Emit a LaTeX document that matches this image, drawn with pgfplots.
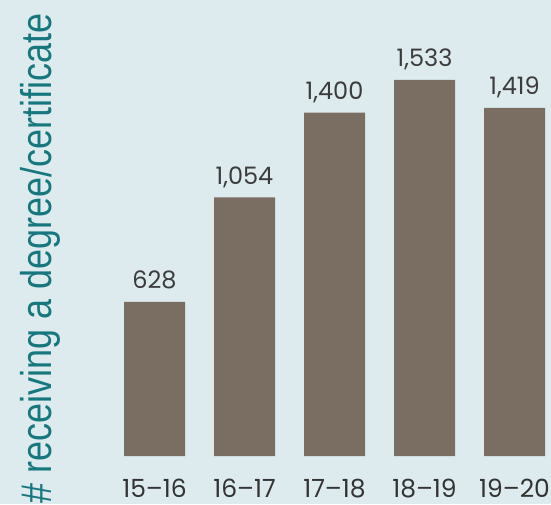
\documentclass[border=0pt]{standalone}
\usepackage{pgfplots}
\pgfplotsset{compat=1.18}
\usetikzlibrary{backgrounds}
\usepackage{fontspec}
\setmainfont{Poppins}
\newfontfamily\labelfont{Liberation Sans}
\definecolor{bg}{HTML}{DDEBEE}
\definecolor{barc}{HTML}{7A6D61}
\definecolor{tealc}{HTML}{17777F}
\definecolor{txt}{HTML}{333333}
\definecolor{valc}{HTML}{3C3C3C}
\begin{document}
\begin{tikzpicture}[x=1pt,y=1pt]
\begin{axis}[
  at={(109.5pt,48pt)}, anchor=south west,
  width=436.5pt, height=392.5pt, scale only axis,
  xmin=-0.5, xmax=4.35, ymin=0, ymax=1600,
  axis line style={draw=none},
  major tick length=0pt,
  ytick=\empty,
  xtick=data,
  xticklabels={15–16,16–17,17–18,18–19,19–20},
  xticklabel style={anchor=base, inner sep=0pt, yshift=-41.6pt, font=\fontsize{25}{30}\selectfont, text=txt},
  ybar, bar width=61pt,
  clip=false,
  /pgf/number format/assume math mode=true,
  /pgf/number format/1000 sep={,},
  nodes near coords,
  nodes near coords style={anchor=base, inner sep=0pt, yshift=13pt, font=\fontsize{24}{28}\selectfont, text=valc},
]
\addplot[fill=barc, draw=none] coordinates {(0,628) (1,1054) (2,1400) (3,1533) (4,1419)};
\end{axis}
\node[rotate=90, anchor=base, inner sep=0pt, font=\labelfont\fontsize{43}{48}\selectfont, text=tealc] at (51.7,246) {\scalebox{0.837}[1]{\# receiving a degree/certificate}};
\begin{scope}[on background layer]
\fill[bg] (0,0) rectangle (551,504);
\end{scope}
\end{tikzpicture}
\end{document}
